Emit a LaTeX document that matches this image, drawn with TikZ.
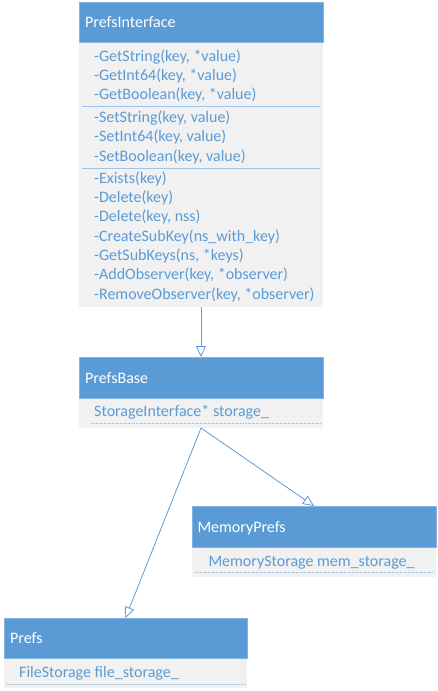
\documentclass[tikz,border=0pt]{standalone}
\usepackage{fontspec}
\setmainfont{Carlito}
\usetikzlibrary{arrows.meta}
\definecolor{hdrblue}{HTML}{5B9BD5}
\definecolor{bodygray}{HTML}{F1F1F1}
\definecolor{membertxt}{HTML}{5B9BD5}
\definecolor{sepline}{HTML}{9DC3E6}
\tikzset{
  hdrbox/.style={fill=hdrblue, draw=hdrblue!75!white, line width=0.6pt, inner sep=0pt, outer sep=0pt, anchor=north west},
  bodybox/.style={fill=bodygray, draw=none, inner sep=0pt, outer sep=0pt, anchor=north west},
  hdrtext/.style={text=white, font=\fontsize{16}{19}\selectfont, inner sep=0pt, anchor=base west},
  member/.style={text=membertxt, font=\fontsize{16}{19}\selectfont, inner sep=0pt, anchor=base west},
  sepsolid/.style={draw=sepline, line width=0.8pt},
  sepdotted/.style={draw=sepline, line width=0.8pt, dash pattern=on 1pt off 0.6pt},
  inherit/.style={draw=hdrblue, line width=0.8pt, -{Triangle[open, length=11pt, width=10pt, fill=white]}}
}
\begin{document}
\begin{tikzpicture}[x=1pt, y=-1pt]
\useasboundingbox (0,0) rectangle (437,691);

% PrefsInterface
\node[bodybox, minimum width=244, minimum height=265] (pibody) at (79,42) {};
\node[hdrbox, minimum width=244, minimum height=40] (pihead) at (79,2) {};
\node[hdrtext] (pititle) at (85,27.5) {PrefsInterface};
\draw[sepsolid] (81.5,106) coordinate (pis1a) -- (320,106) coordinate (pis1b);
\draw[sepsolid] (81.5,168) coordinate (pis2a) -- (320,168) coordinate (pis2b);
\node[member] (m1) at (94,61.5) {-GetString(key, *value)};
\node[member] (m2) at (94,80.5) {-GetInt64(key, *value)};
\node[member] (m3) at (94,99.5) {-GetBoolean(key, *value)};
\node[member] (m4) at (94,122.5) {-SetString(key, value)};
\node[member] (m5) at (94,141.7) {-SetInt64(key, value)};
\node[member] (m6) at (94,161) {-SetBoolean(key, value)};
\node[member] (m7) at (94,183.5) {-Exists(key)};
\node[member] (m8) at (94,202.7) {-Delete(key)};
\node[member] (m9) at (94,221.9) {-Delete(key, nss)};
\node[member] (m10) at (94,241.3) {-CreateSubKey(ns\_with\_key)};
\node[member] (m11) at (94,260.5) {-GetSubKeys(ns, *keys)};
\node[member] (m12) at (94,279.8) {-AddObserver(key, *observer)};
\node[member] (m13) at (94,299) {-RemoveObserver(key, *observer)};

% PrefsBase
\node[bodybox, minimum width=244, minimum height=30] (pbbody) at (79,398) {};
\node[hdrbox, minimum width=244, minimum height=41] (pbhead) at (79,357) {};
\node[hdrtext] (pbtitle) at (85,383.3) {PrefsBase};
\node[member] (pbm1) at (94,416.7) {StorageInterface* storage\_};
\draw[sepdotted] (91,423) -- (320,423);

% MemoryPrefs
\node[bodybox, minimum width=244, minimum height=30] (mpbody) at (192,547) {};
\node[hdrbox, minimum width=244, minimum height=41] (mphead) at (192,506) {};
\node[hdrtext] (mptitle) at (197.3,532.3) {MemoryPrefs};
\node[member] (mpm1) at (208.3,566.7) {MemoryStorage mem\_storage\_};
\draw[sepdotted] (195,572) -- (432,572);

% Prefs
\node[bodybox, minimum width=243, minimum height=30] (pfbody) at (4,658) {};
\node[hdrbox, minimum width=243, minimum height=40] (pfhead) at (4,618) {};
\node[hdrtext] (pftitle) at (10,643.3) {Prefs};
\node[member] (pfm1) at (19,677.3) {FileStorage file\_storage\_};
\draw[sepdotted] (7,684) -- (244,684);

% Generalisation arrows
\draw[inherit] (pibody.south) -- (pbhead.north);
\draw[inherit] (pbbody.south) -- (mphead.north);
\draw[inherit] (pbbody.south) -- (pfhead.north);
\end{tikzpicture}
\end{document}
